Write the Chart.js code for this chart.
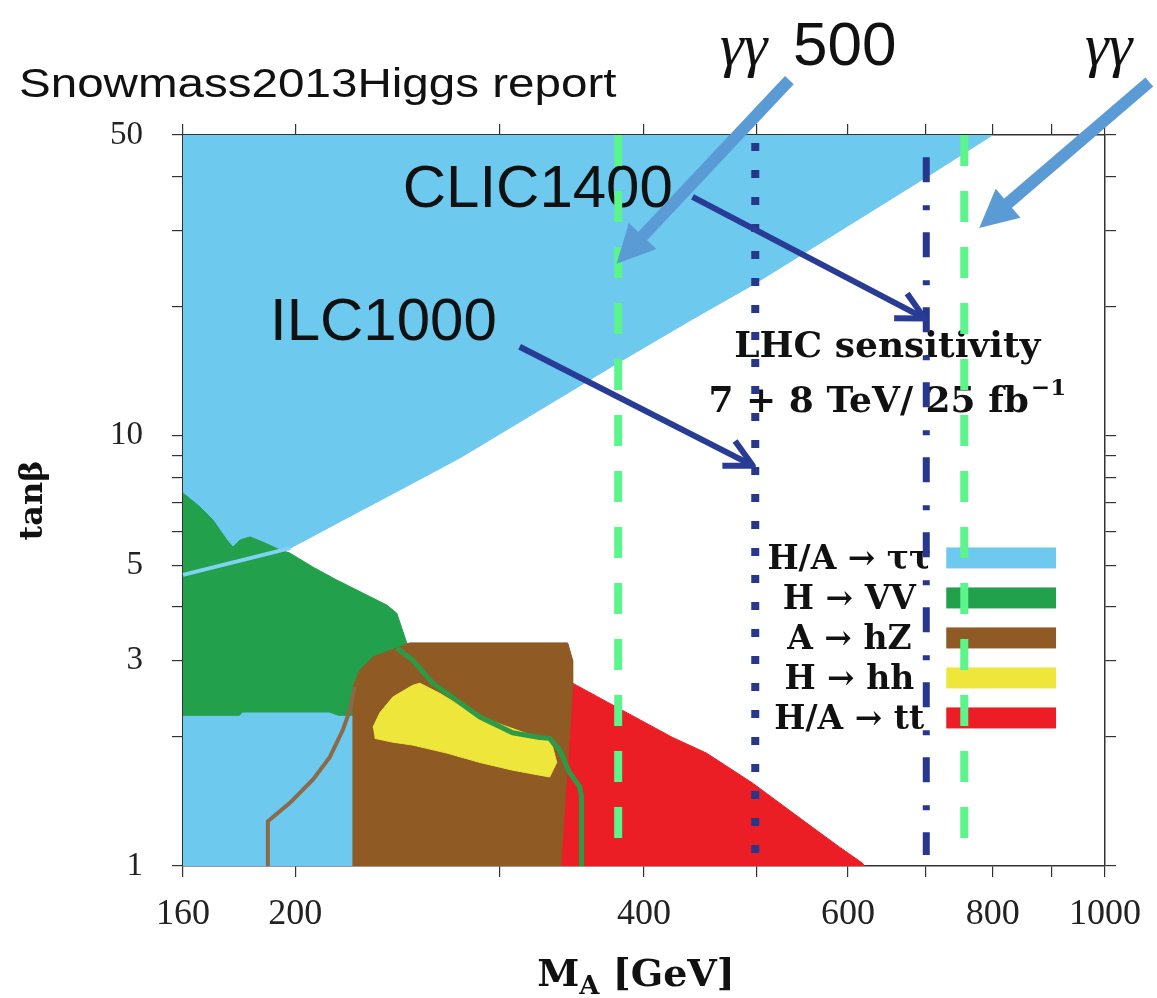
<!DOCTYPE html>
<html>
<head>
<meta charset="utf-8">
<script src="https://cdn.jsdelivr.net/npm/chart.js@4.4.1/dist/chart.umd.min.js"></script>
<style>
  html, body { margin: 0; padding: 0; background: #fff; }
</style>
</head>
<body>
<canvas id="myChart" width="1157" height="998"></canvas>
<script>
// axis ticks
var xTicks = [160, 200, 300, 400, 500, 600, 700, 800, 900, 1000];
var xLabels = [160, 200, 400, 600, 800, 1000];
var yTicks = [1, 2, 3, 4, 5, 6, 7, 8, 9, 10, 20, 30, 40, 50];
var yLabels = [1, 3, 5, 10, 50];

// excluded regions, outlines as [M_A, tanb]
var tauUpper = [[160,4.75],[198,5.48],[221.6,6.44],[246.2,7.48],[277.4,8.88],[312.4,10.76],[345,12.64],[379.6,14.76],[438,18.5],[499,22.6],[701,39.9],[756,45.4],[800,50],[160,50]];
var tauLower = [[160,1],[160,2.3],[226,2.3],[226,1]];
var tauEdge = [[160,4.75],[198,5.48]];
var vvRegion = [[160,7.36],[165.5,6.83],[169.8,6.37],[174.6,5.72],[176.7,5.51],[179.2,5.72],[182.8,5.82],[187.5,5.66],[194,5.43],[197.8,5.34],[207.2,4.95],[217.2,4.62],[228.7,4.31],[239.9,4.04],[244.7,3.87],[249.6,3.3],[249.6,2.24],[218,2.24],[214,2.28],[180,2.28],[179,2.24],[160,2.24]];
var vvLine = [[244.7,3.21],[252.6,3.01],[262.8,2.66],[270.3,2.52],[288.7,2.22],[308.1,2.04],[325.1,1.99],[331.6,1.98],[338.2,1.86],[345,1.65],[351.9,1.53],[353.3,1.45],[353.3,1]];
var hzRegion = [[224.3,1],[224.3,2.61],[227.4,2.85],[233.4,3.06],[244.6,3.21],[251,3.3],[343.7,3.3],[347.1,3.01],[347.1,2.6],[339,1]];
var hzLine = [[189.4,1],[189.4,1.27],[197.8,1.4],[207.2,1.59],[214.2,1.79],[219.8,2.07],[222.9,2.3],[225.2,2.61]];
var hhRegion = [[233.4,2.10],[236.6,2.27],[242.8,2.47],[252.6,2.63],[256.2,2.66],[266.5,2.52],[279,2.34],[298.4,2.15],[318.8,2.02],[329.7,1.98],[333.6,1.89],[336.3,1.74],[331.6,1.61],[308.1,1.67],[288.7,1.74],[270.3,1.83],[252.6,1.91],[242.8,1.94],[234.2,1.98]];
var ttRegion = [[338,1],[338,2.62],[347.1,2.66],[378.8,2.34],[423.3,1.99],[452.8,1.83],[496.1,1.56],[552.3,1.26],[589.8,1.107],[617.3,1.016],[620,1]];

// collider reach lines [M_A, tanb top, tanb bottom]
var gammaReach = [[380, 50, 1.16], [756, 50, 1.16]];
var ilcReach = [499, 47.9, 1];
var clicReach = [701, 44.4, 1.06];

// arrows [from, to]
var gammaArrows = [[[534,67.1],[378.8,25.1]], [[1092,66.4],[778.8,30.4]]];
var reachArrows = [[[440.5,35.9],[702.3,18.6]], [[312.4,16.1],[499.2,8.46]]];

var legendNames = ['H/A \u2192 \u03c4\u03c4', 'H \u2192 VV', 'A \u2192 hZ', 'H \u2192 hh', 'H/A \u2192 tt'];
var legendColors = ['#6dc9ee', '#22a04b', '#8f5a24', '#eee63a', '#eb1e25'];

function pts(a) { return a.map(function(p){ return {x: p[0], y: p[1]}; }); }

function region(label, a, color) {
  return {label: label, data: pts(a), backgroundColor: color, borderColor: color, borderWidth: 1,
          fill: 'shape', pointRadius: 0, tension: 0, clip: 0};
}
function path(label, a, color, width, dash) {
  return {label: label, data: pts(a), borderColor: color, borderWidth: width, borderDash: dash || [],
          borderCapStyle: 'butt', fill: false, pointRadius: 0, tension: 0, clip: 6};
}
function vline(label, r, color, width, dash) {
  return path(label, [[r[0], r[1]], [r[0], r[2]]], color, width, dash);
}

// bottom to top
var datasets = [
  region('tau', tauUpper, legendColors[0]),
  region('tau low', tauLower, legendColors[0]),
  region('tt', ttRegion, legendColors[4]),
  region('VV', vvRegion, legendColors[1]),
  path('tau edge', tauEdge, '#7fd3f2', 4),
  region('hZ', hzRegion, legendColors[2]),
  path('hZ edge', hzLine, '#8a6a48', 4),
  region('hh', hhRegion, legendColors[3]),
  path('VV edge', vvLine, '#2e9a45', 5),
  vline('gg500', gammaReach[0], '#5cf58c', 8, [31, 25]),
  vline('gg', gammaReach[1], '#5cf58c', 8, [31, 25]),
  vline('ILC1000', ilcReach, '#26378c', 8, [8, 19]),
  vline('CLIC1400', clicReach, '#26378c', 7, [25, 23, 5, 22])
];
datasets.forEach(function(d, i){ d.order = datasets.length - i; });

function px(chart, p) {
  return [chart.scales.x.getPixelForValue(p[0]), chart.scales.y.getPixelForValue(p[1])];
}

function drawArrow(ctx, a, b, color, width, headLen, headHalf, open) {
  var ang = Math.atan2(b[1] - a[1], b[0] - a[0]);
  var c = Math.cos(ang), s = Math.sin(ang);
  ctx.save();
  ctx.strokeStyle = color; ctx.fillStyle = color; ctx.lineWidth = width; ctx.lineCap = 'butt';
  var e = open ? [b[0] - c * 4, b[1] - s * 4] : [b[0] - c * headLen * 0.8, b[1] - s * headLen * 0.8];
  ctx.beginPath(); ctx.moveTo(a[0], a[1]); ctx.lineTo(e[0], e[1]); ctx.stroke();
  var bx = b[0] - c * headLen, by = b[1] - s * headLen;
  var l = [bx + s * headHalf, by - c * headHalf], r = [bx - s * headHalf, by + c * headHalf];
  ctx.beginPath();
  if (open) {
    ctx.lineJoin = 'round';
    ctx.moveTo(l[0], l[1]); ctx.lineTo(b[0] - c * 3, b[1] - s * 3); ctx.lineTo(r[0], r[1]); ctx.stroke();
  } else {
    ctx.moveTo(b[0], b[1]); ctx.lineTo(l[0], l[1]); ctx.lineTo(r[0], r[1]); ctx.closePath(); ctx.fill();
  }
  ctx.restore();
}

function text(ctx, t, x, y, font, align, sx) {
  ctx.save();
  ctx.font = font; ctx.fillStyle = '#111'; ctx.textAlign = align || 'left'; ctx.textBaseline = 'alphabetic';
  ctx.translate(x, y); ctx.scale(sx || 1, 1);
  ctx.fillText(t, 0, 0);
  ctx.restore();
}

var notes = {
  id: 'notes',
  afterDatasetDraw: function(chart, args) {
    if (chart.data.datasets[args.index].label !== 'VV edge') return;
    var ctx = chart.ctx;
    var p = px(chart, [247.6, 34.0]);
    text(ctx, 'CLIC1400', p[0], p[1], '60px "Liberation Sans"', 'left');
    p = px(chart, [190.2, 16.7]);
    text(ctx, 'ILC1000', p[0], p[1], '60px "Liberation Sans"', 'left');
    // LHC label
    p = px(chart, [648.8, 15.24]);
    text(ctx, 'LHC sensitivity', p[0], p[1], 'bold 36px "DejaVu Serif"', 'center');
    p = px(chart, [648.8, 11.36]);
    ctx.save();
    ctx.font = 'bold 36px "DejaVu Serif"';
    var main = '7 + 8 TeV/ 25 fb', w1 = ctx.measureText(main).width;
    ctx.font = 'bold 23px "DejaVu Serif"';
    var w2 = ctx.measureText('\u22121').width;
    ctx.restore();
    var x0 = p[0] - (w1 + w2 + 2) / 2;
    text(ctx, main, x0, p[1], 'bold 36px "DejaVu Serif"', 'left');
    text(ctx, '\u22121', x0 + w1 + 2, p[1] - 17, 'bold 23px "DejaVu Serif"', 'left');
    // legend, text left of coloured bars
    var cx = chart.scales.x.getPixelForValue(601.6);
    var bx0 = chart.scales.x.getPixelForValue(729.4), bx1 = chart.scales.x.getPixelForValue(907.3);
    var y0 = chart.scales.y.getPixelForValue(5.2);
    for (var i = 0; i < legendNames.length; i++) {
      var yy = y0 + i * 40;
      ctx.fillStyle = legendColors[i];
      ctx.fillRect(bx0, yy - 10.5, bx1 - bx0, 21);
      text(ctx, legendNames[i], cx, yy + 11, 'bold 33px "DejaVu Serif"', 'center');
    }
  },
  afterDraw: function(chart) {
    var ctx = chart.ctx;
    gammaArrows.forEach(function(a){
      drawArrow(ctx, px(chart, a[0]), px(chart, a[1]), '#5b9bd5', 12, 38, 19, false);
    });
    reachArrows.forEach(function(a){
      drawArrow(ctx, px(chart, a[0]), px(chart, a[1]), '#283c96', 6, 30, 14, true);
    });
    text(ctx, 'Snowmass2013Higgs report', 19, 97, '41px "Liberation Sans"', 'left', 1.16);
    text(ctx, '\u03b3\u03b3', 720, 65, 'italic 60px "Liberation Serif"', 'left');
    text(ctx, '500', 793, 65, '62px "Liberation Sans"', 'left');
    text(ctx, '\u03b3\u03b3', 1085, 65, 'italic 60px "Liberation Serif"', 'left');
    // axis titles
    var a = chart.chartArea;
    ctx.save();
    ctx.font = 'bold 38px "DejaVu Serif"';
    var wM = ctx.measureText('M').width, wG = ctx.measureText(' [GeV]').width;
    ctx.font = 'bold 26px "DejaVu Serif"';
    var wA = ctx.measureText('A').width;
    ctx.restore();
    var mx = (a.left + a.right) / 2 - 8 - (wM + wA + wG) / 2;
    text(ctx, 'M', mx, 986, 'bold 38px "DejaVu Serif"', 'left');
    text(ctx, 'A', mx + wM, 994, 'bold 26px "DejaVu Serif"', 'left');
    text(ctx, ' [GeV]', mx + wM + wA, 986, 'bold 38px "DejaVu Serif"', 'left');
    ctx.save();
    ctx.translate(42, (a.top + a.bottom) / 2);
    ctx.rotate(-Math.PI / 2);
    text(ctx, 'tan\u03b2', 0, 0, 'bold 32px "DejaVu Serif"', 'center');
    ctx.restore();
  }
};

function axis(type, pos, min, max, ticks, labels, fit) {
  return {
    type: 'logarithmic', position: pos, min: min, max: max,
    afterBuildTicks: function(s){ s.ticks = ticks.map(function(v){ return {value: v}; }); },
    afterFit: fit,
    ticks: {
      display: labels.length > 0, autoSkip: false, maxRotation: 0, color: '#222',
      padding: type === 'x' ? 16 : 29,
      font: {family: 'Liberation Serif', size: type === 'x' ? 36 : 33},
      callback: function(v){ return labels.indexOf(v) >= 0 ? String(v) : ''; }
    },
    grid: {drawOnChartArea: false, tickLength: 11, color: '#333', lineWidth: 1.2},
    border: {color: '#333', width: 1.5}
  };
}

var ctx = document.getElementById('myChart').getContext('2d');
var myChart = new Chart(ctx, {
  type: 'line',
  data: {datasets: datasets},
  options: {
    responsive: false,
    animation: false,
    events: [],
    layout: {padding: {left: 0, top: 135, right: 50, bottom: 0}},
    plugins: {legend: {display: false}, tooltip: {enabled: false}},
    scales: {
      x: axis('x', 'bottom', 160, 1000, xTicks, xLabels, function(s){ s.height = 132; }),
      x2: axis('x', 'top', 160, 1000, xTicks, [], function(s){ s.height = 0; }),
      y: axis('y', 'left', 1, 50, yTicks, yLabels, function(s){ s.width = 183; }),
      y2: axis('y', 'right', 1, 50, yTicks, [], function(s){ s.width = 0; })
    }
  },
  plugins: [notes]
});
</script>
</body>
</html>
